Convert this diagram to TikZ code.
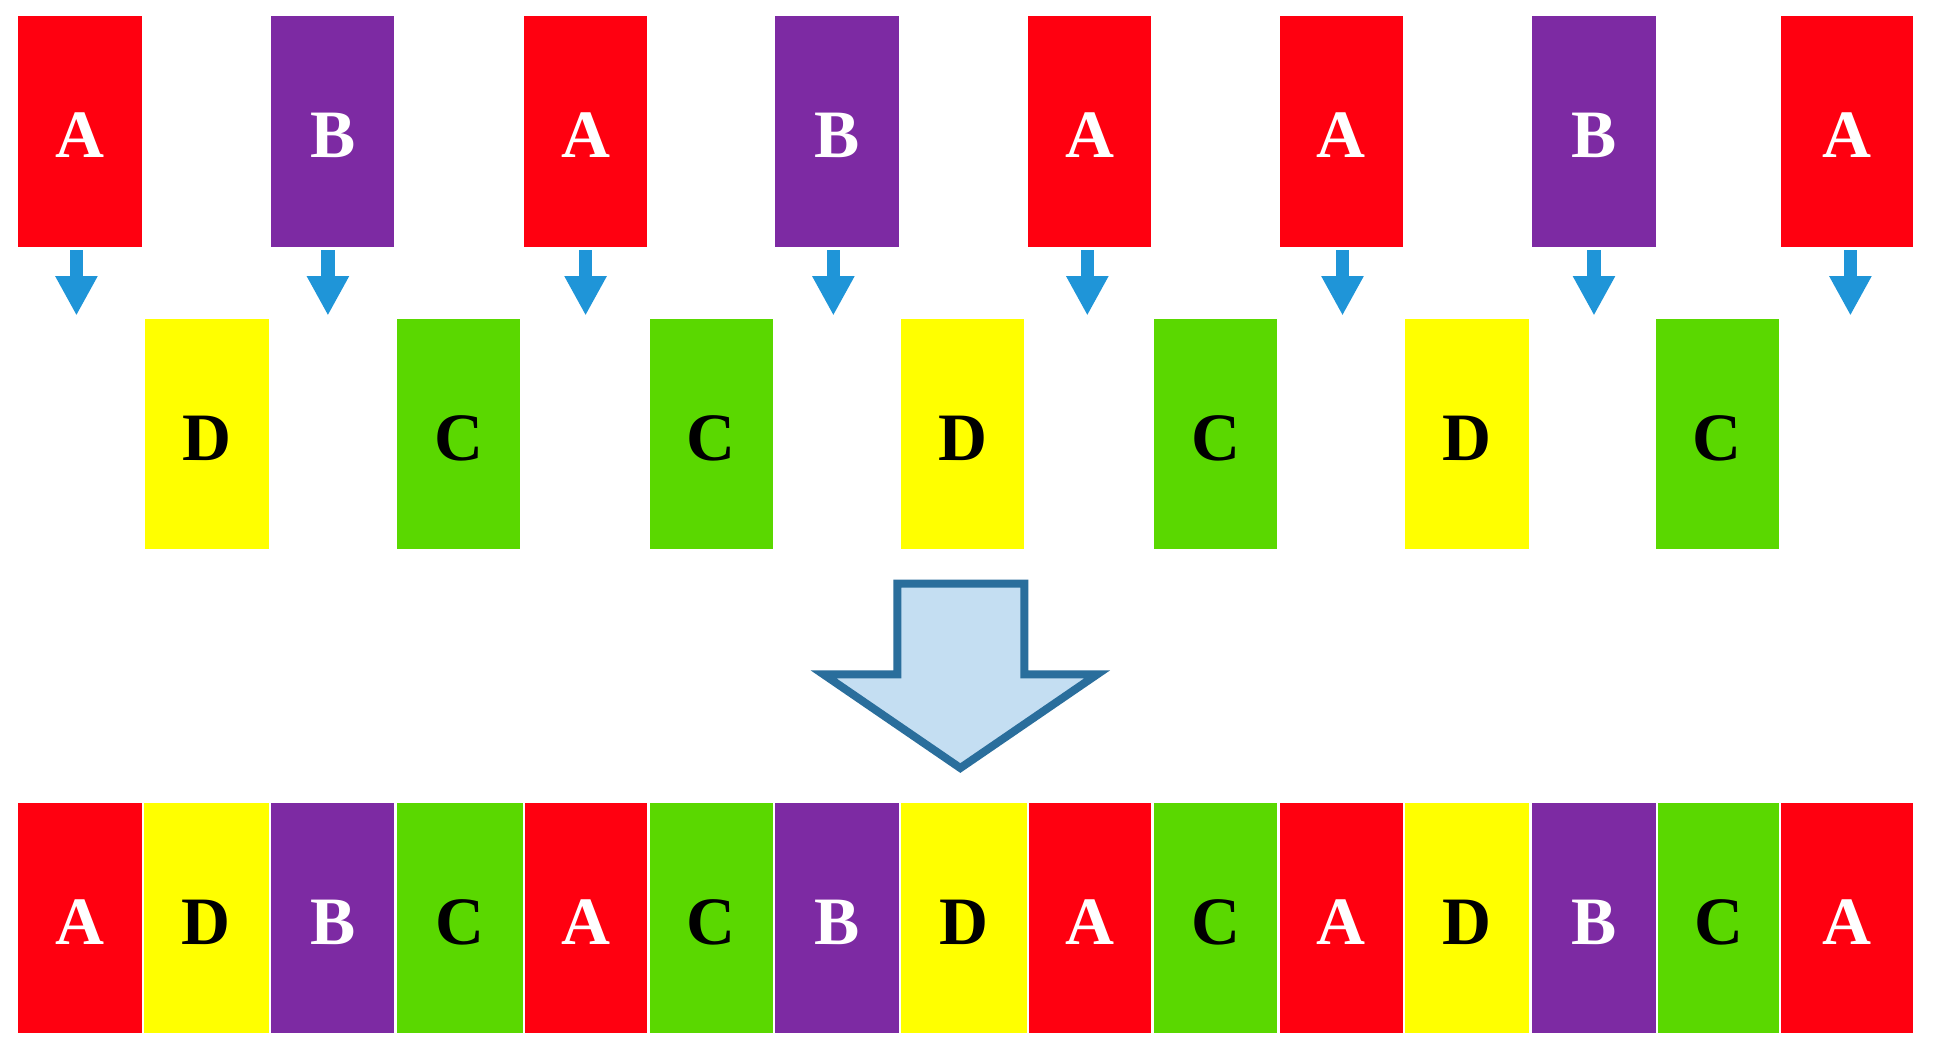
\documentclass[tikz,border=0pt]{standalone}
\usepackage{fontspec}
\setmainfont{Liberation Serif}
\usetikzlibrary{arrows.meta}
\definecolor{cRed}{HTML}{FF0010}
\definecolor{cPurple}{HTML}{7D2AA3}
\definecolor{cGreen}{HTML}{5AD800}
\definecolor{cYellow}{HTML}{FFFF00}
\definecolor{cArrow}{HTML}{1F95D8}
\definecolor{cBigStroke}{HTML}{2A6E9C}
\definecolor{cBigFill}{HTML}{C4DEF2}
\tikzset{
  box/.style={rectangle, inner sep=0pt, outer sep=0pt, minimum height=187pt,
    text height=43pt, text depth=0pt,
    font=\fontsize{55}{55}\selectfont\bfseries},
  boxA/.style={box, fill=cRed, text=white},
  boxB/.style={box, fill=cPurple, text=white},
  boxC/.style={box, fill=cGreen, text=black},
  boxD/.style={box, fill=cYellow, text=black},
  smallarrow/.style={draw=cArrow, line width=11pt, shorten <=3pt,
    -{Triangle[width=32pt,length=32pt]}},
  bigarrow/.style={draw=cBigStroke, fill=cBigFill, line width=6.5pt, line join=miter}
}
\begin{document}
\begin{tikzpicture}[x=1pt,y=-1pt]
\useasboundingbox[fill=white] (0,0) rectangle (1568,857);
% top row
\foreach \l/\r/\s/\dx [count=\i] in {15/115/A/-3,220/320/B/-4,425/525/A/0,629/729/B/-3,834/934/A/-2,1038/1138/A/1,1243/1343/B/0,1445/1552/A/2.5}{
  \node[box\s, minimum width={(\r-\l)*1pt}] (t\i) at ({(\l+\r)/2},106.5) {\s};
  \draw[smallarrow] ([xshift=\dx pt]t\i.south) -- ([xshift=\dx pt,yshift=-56pt]t\i.south);
}
% middle row
\foreach \l/\r/\s [count=\i] in {118/218/D,322/422/C,527/627/C,731/831/D,936/1036/C,1140/1240/D,1343/1443/C}{
  \node[box\s, minimum width={(\r-\l)*1pt}] (m\i) at ({(\l+\r)/2},352) {\s};
}
% big arrow
\coordinate (p1) at (728,473.5);
\coordinate (p2) at (831,473.5);
\coordinate (p3) at (831,547);
\coordinate (p4) at (890,547);
\coordinate (p5) at (779,623);
\coordinate (p6) at (668,547);
\coordinate (p7) at (728,547);
\draw[bigarrow] (p1) -- (p2) -- (p3) -- (p4) -- (p5) -- (p6) -- (p7) -- cycle;
% bottom row
\foreach \l/\r/\s [count=\i] in {15/115/A,116.5/218/D,220/320/B,322/424/C,425.5/525/A,527/627/C,629/729/B,731/833/D,834.5/934/A,936/1036/C,1038/1138/A,1140/1240/D,1243/1343/B,1345/1443/C,1445/1552/A}{
  \node[box\s, minimum width={(\r-\l)*1pt}] (b\i) at ({(\l+\r)/2},744.5) {\s};
}
\end{tikzpicture}
\end{document}
